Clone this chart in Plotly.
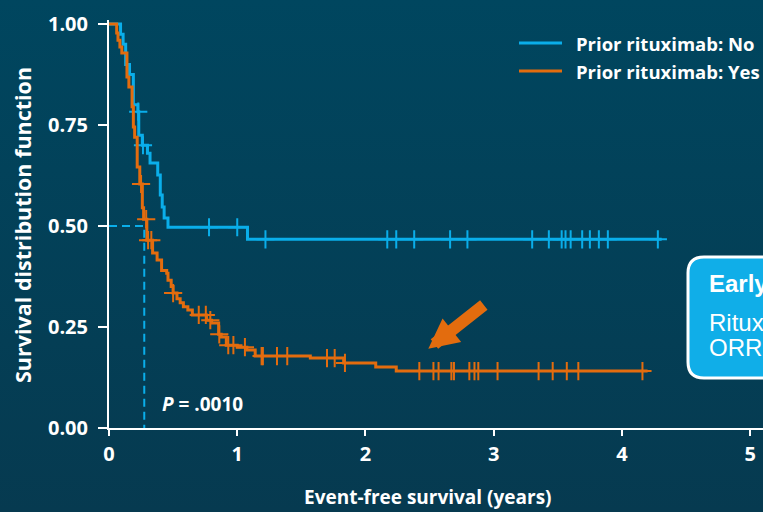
import base64
import plotly.graph_objects as go

# Kaplan-Meier step data: event-free survival by prior rituximab exposure
no_times = [0, 0.09, 0.11, 0.13, 0.16, 0.19, 0.225, 0.232, 0.26, 0.30, 0.32, 0.38, 0.40, 0.415, 0.43, 0.46, 1.08]
no_surv = [1.0, 0.975, 0.95, 0.90, 0.875, 0.80, 0.783, 0.725, 0.70, 0.68, 0.656, 0.626, 0.577, 0.547, 0.52, 0.497, 0.467]
no_end = 4.31
no_censored = [0.228, 0.265, 0.78, 1.0, 1.22, 2.17, 2.24, 2.38, 2.66, 2.795, 3.30, 3.43, 3.53,
               3.56, 3.60, 3.69, 3.75, 3.82, 3.89, 4.28]

yes_times = [0, 0.06, 0.07, 0.085, 0.10, 0.14, 0.155, 0.18, 0.19, 0.20, 0.22, 0.24, 0.26, 0.27, 0.295,
             0.34, 0.375, 0.41, 0.45, 0.46, 0.485, 0.50, 0.53, 0.555, 0.58, 0.615, 0.65, 0.76, 0.80,
             0.855, 0.875, 0.915, 1.0, 1.075, 1.14, 1.57, 1.83, 2.08, 2.24]
yes_surv = [1.0, 0.978, 0.96, 0.943, 0.928, 0.869, 0.844, 0.795, 0.745, 0.72, 0.646, 0.604, 0.545, 0.517, 0.465,
            0.433, 0.416, 0.39, 0.383, 0.366, 0.35, 0.334, 0.32, 0.31, 0.30, 0.292, 0.28, 0.267, 0.26,
            0.232, 0.225, 0.205, 0.20, 0.193, 0.178, 0.173, 0.161, 0.151, 0.141]
yes_end = 4.20
yes_censored = [0.25, 0.29, 0.305, 0.33, 0.50, 0.70, 0.755, 0.79, 0.86, 0.93, 0.97, 1.06, 1.19, 1.20,
                1.31, 1.39, 1.70, 1.76, 1.84, 2.42, 2.53, 2.57, 2.67, 2.69, 2.81, 2.85, 2.88, 3.03,
                3.35, 3.46, 3.57, 3.66, 4.16]

median_yes = 0.275
x_ticks = [0, 1, 2, 3, 4, 5]
y_ticks = [0, 0.25, 0.5, 0.75, 1.0]
y_ticktext = ["0.00", "0.25", "0.50", "0.75", "1.00"]
series_names = ["Prior rituximab: No", "Prior rituximab: Yes"]

BLUE = "#0AAEEA"
ORANGE = "#E36C0E"
WHITE = "#FFFFFF"
FONT = "Open Sans"

W, H = 763, 512
ML, MR, MT, MB = 109, 0, 20, 84
PW, PH = W - ML - MR, H - MT - MB


def px(x):
    return (x - ML) / PW


def py(y):
    return (H - MB - y) / PH


def surv_at(times, surv, t):
    val = surv[0]
    for ti, si in zip(times, surv):
        if ti <= t:
            val = si
    return val


fig = go.Figure()

for times, surv, end, cens, color in [
    (no_times, no_surv, no_end, no_censored, BLUE),
    (yes_times, yes_surv, yes_end, yes_censored, ORANGE),
]:
    fig.add_trace(go.Scatter(
        x=times + [end], y=surv + [surv[-1]], mode="lines",
        line=dict(color=color, width=3, shape="hv"), showlegend=False, hoverinfo="skip"))
    fig.add_trace(go.Scatter(
        x=cens, y=[surv_at(times, surv, c) for c in cens], mode="markers",
        marker=dict(symbol="cross-thin", size=13, color=color, line=dict(width=2, color=color)),
        showlegend=False, hoverinfo="skip"))

# median reference lines
fig.add_trace(go.Scatter(
    x=[0, median_yes, median_yes], y=[0.5, 0.5, 0], mode="lines",
    line=dict(color=BLUE, width=2, dash="8px,5px"), showlegend=False, hoverinfo="skip"))

# gradient backdrop
svg = ('<svg xmlns="http://www.w3.org/2000/svg" width="763" height="512">'
       '<defs><linearGradient id="g" x1="0" y1="0" x2="0" y2="1">'
       '<stop offset="0" stop-color="#00465F"/><stop offset="1" stop-color="#063A50"/>'
       '</linearGradient></defs><rect width="763" height="512" fill="url(#g)"/></svg>')
src = "data:image/svg+xml;base64," + base64.b64encode(svg.encode()).decode()

shapes = []
annotations = []

# legend
for i, (name, color) in enumerate(zip(series_names, [BLUE, ORANGE])):
    yy = 43 + 28 * i
    shapes.append(dict(type="line", xref="paper", yref="paper", x0=px(519), x1=px(562),
                       y0=py(yy), y1=py(yy), line=dict(color=color, width=3)))
    annotations.append(dict(xref="paper", yref="paper", x=px(574), y=py(yy), xanchor="left",
                            yanchor="middle", text=name, showarrow=False,
                            font=dict(family=FONT, size=18.5, color=WHITE, weight="bold")))

# callout box (rounded, running off the right edge; right side left open)
bx0, by0, by1, bx1, r = 688, 257, 378, 1000, 16
path = (f"M {px(bx1)},{py(by0)} L {px(bx0 + r)},{py(by0)} "
        f"Q {px(bx0)},{py(by0)} {px(bx0)},{py(by0 + r)} L {px(bx0)},{py(by1 - r)} "
        f"Q {px(bx0)},{py(by1)} {px(bx0 + r)},{py(by1)} L {px(bx1)},{py(by1)}")
shapes.append(dict(type="path", xref="paper", yref="paper", path=path,
                   fillcolor="#10AEE8", line=dict(color=WHITE, width=3), layer="above"))
for txt, yy, bold in [("Early", 284, True), ("Ritux", 322, False), ("ORR", 347, False)]:
    annotations.append(dict(xref="paper", yref="paper", x=px(707), y=py(yy), xanchor="left",
                            yanchor="middle", text=f"<b>{txt}</b>" if bold else txt, showarrow=False,
                            font=dict(family="Liberation Sans", size=24, color=WHITE)))

# arrow
annotations.append(dict(x=2.49, y=0.196, xref="x", yref="y", ax=57, ay=-45, text="",
                        showarrow=True, arrowhead=2, arrowsize=0.5, arrowwidth=12,
                        arrowcolor=ORANGE))

# P value
annotations.append(dict(x=0.40, y=0.059, xref="x", yref="y", xanchor="left", yanchor="middle",
                        text="<i>P</i> = .0010", showarrow=False,
                        font=dict(family=FONT, size=19, color=WHITE, weight="bold")))

# axis titles
annotations.append(dict(xref="paper", yref="paper", x=px(22), y=py(225), textangle=-90,
                        text="Survival distribution function", showarrow=False,
                        xanchor="center", yanchor="middle",
                        font=dict(family=FONT, size=21.5, color=WHITE, weight="bold")))
annotations.append(dict(xref="paper", yref="paper", x=px(428), y=py(497),
                        text="Event-free survival (years)", showarrow=False,
                        xanchor="center", yanchor="middle",
                        font=dict(family=FONT, size=19, color=WHITE, weight="bold")))

fig.update_layout(
    width=W, height=H,
    margin=dict(l=ML, r=MR, t=MT, b=MB),
    paper_bgcolor="#02425B", plot_bgcolor="rgba(0,0,0,0)",
    images=[dict(source=src, xref="paper", yref="paper", x=px(0), y=py(0), sizex=W / PW,
                 sizey=H / PH, sizing="stretch", xanchor="left", yanchor="top", layer="below")],
    shapes=shapes, annotations=annotations, showlegend=False,
    xaxis=dict(range=[0, 5.1], tickvals=x_ticks, showgrid=False, zeroline=False,
               showline=True, linecolor=WHITE, linewidth=2, ticks="outside", ticklen=6,
               tickwidth=2, tickcolor=WHITE, ticklabelstandoff=1,
               tickfont=dict(family=FONT, size=20, color=WHITE, weight="bold")),
    yaxis=dict(range=[0, 1.01], tickvals=y_ticks, ticktext=y_ticktext, showgrid=False,
               zeroline=False, showline=True, linecolor=WHITE, linewidth=2, ticks="outside",
               ticklen=9, tickwidth=2, tickcolor=WHITE, ticklabelstandoff=6,
               tickfont=dict(family=FONT, size=20, color=WHITE, weight="bold")),
)

fig.write_html("out.html")
